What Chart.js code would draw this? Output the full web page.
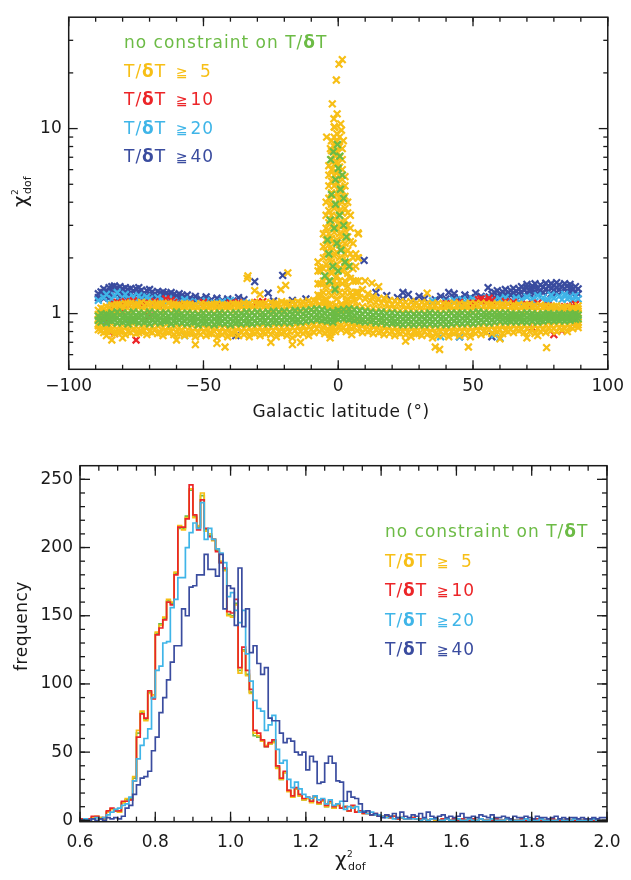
<!DOCTYPE html>
<html>
<head>
<meta charset="utf-8">
<script src="https://cdn.jsdelivr.net/npm/chart.js@4.4.1/dist/chart.umd.min.js"></script>
<style>
  body { margin: 0; background: #fff; }
  .panel { position: absolute; left: 0; }
</style>
</head>
<body>
<div class="panel" style="top:0"><canvas id="scatterChart" width="631" height="430"></canvas></div>
<div class="panel" style="top:430px"><canvas id="histChart" width="631" height="450"></canvas></div>
<script>
const FONT = '"DejaVu Sans", sans-serif';
const INK = '#1a1a1a';

const SERIES_NAMES = ['no constraint on T/δT', 'T/δT ≧ 5', 'T/δT ≧ 10', 'T/δT ≧ 20', 'T/δT ≧ 40'];
const THRESHOLDS = ['5', '10', '20', '40'];
const SERIES_COLORS = ['#6cbb45', '#f7bf16', '#ec2528', '#3fb5e8', '#3a4c9f'];

// ---- top panel: chi2 vs galactic latitude ----
const LAT_TICKS = [-100, -50, 0, 50, 100];
const CHI_TICKS = [1, 10];
const CHI_MINOR = [0.6, 0.7, 0.8, 0.9, 2, 3, 4, 5, 6, 7, 8, 9, 20, 30];

// yellow band, one row per latitude column: [lat, chi2 ...]
const YELLOW_BAND = [
  [-89, .82, .88, .99, 1.04], [-87, .79, .86, 1.00, 1.06], [-85, .81, .87, 1.01, 1.08], [-83, .78, .85, 1.02, 1.10],
  [-81, .80, .86, 1.03, 1.12], [-79, .77, .84, 1.04, 1.13], [-77, .79, .86, 1.03, 1.14], [-75, .78, .85, 1.05, 1.12],
  [-73, .80, .86, 1.04, 1.15], [-71, .77, .84, 1.03, 1.13], [-69, .79, .85, 1.05, 1.14], [-67, .78, .86, 1.04, 1.12],
  [-65, .76, .84, 1.03, 1.13], [-63, .79, .85, 1.05, 1.14], [-61, .77, .86, 1.04, 1.12], [-59, .78, .84, 1.03, 1.11],
  [-57, .76, .85, 1.04, 1.13], [-55, .78, .84, 1.03, 1.12], [-53, .75, .83, 1.04, 1.11], [-51, .77, .84, 1.03, 1.13],
  [-49, .76, .83, 1.04, 1.12], [-47, .78, .85, 1.03, 1.11], [-45, .74, .83, 1.04, 1.13], [-43, .77, .84, 1.03, 1.12],
  [-41, .75, .83, 1.04, 1.11], [-39, .78, .85, 1.03, 1.13], [-37, .76, .84, 1.04, 1.12], [-35, .77, .83, 1.05, 1.14],
  [-33, .75, .84, 1.04, 1.13], [-31, .78, .85, 1.05, 1.15], [-29, .76, .84, 1.04, 1.13], [-27, .78, .85, 1.05, 1.14],
  [-25, .77, .84, 1.04, 1.15], [-23, .75, .85, 1.05, 1.13], [-21, .78, .84, 1.04, 1.16], [-19, .76, .85, 1.05, 1.14],
  [-17, .74, .84, 1.06, 1.15], [-15, .77, .85, 1.05, 1.16], [-13, .78, .86, 1.06, 1.15], [-11, .76, .85, 1.07, 1.17],
  [-9, .79, .87, 1.08, 1.18], [-7, .80, .88, 1.10, 1.22], [-5, .78, .86, 1.09, 1.15], [-3, .77, .85, 1.06, 1.12],
  [-1, .80, .88, 1.05, 1.10], [1, .82, .86, 1.04, 1.12], [3, .80, .88, 1.06, 1.16], [5, .83, .90, 1.08, 1.25],
  [7, .81, .89, 1.10, 1.30], [9, .79, .87, 1.09, 1.35], [11, .80, .88, 1.08, 1.28], [13, .78, .86, 1.07, 1.24],
  [15, .79, .87, 1.06, 1.20], [17, .77, .86, 1.05, 1.21], [19, .78, .85, 1.06, 1.18], [21, .76, .84, 1.05, 1.17],
  [23, .78, .85, 1.04, 1.16], [25, .77, .84, 1.05, 1.15], [27, .75, .85, 1.04, 1.16], [29, .78, .84, 1.03, 1.14],
  [31, .76, .85, 1.04, 1.15], [33, .77, .84, 1.03, 1.14], [35, .74, .83, 1.04, 1.13], [37, .76, .84, 1.03, 1.14],
  [39, .77, .85, 1.04, 1.13], [41, .75, .84, 1.03, 1.12], [43, .78, .85, 1.04, 1.14], [45, .76, .84, 1.03, 1.13],
  [47, .77, .85, 1.04, 1.12], [49, .75, .84, 1.03, 1.14], [51, .78, .85, 1.04, 1.13], [53, .77, .86, 1.05, 1.14],
  [55, .79, .85, 1.04, 1.13], [57, .78, .86, 1.05, 1.12], [59, .80, .86, 1.04, 1.13], [61, .78, .87, 1.05, 1.12],
  [63, .80, .86, 1.04, 1.13], [65, .79, .87, 1.03, 1.11], [67, .81, .86, 1.04, 1.12], [69, .79, .87, 1.03, 1.11],
  [71, .80, .86, 1.04, 1.12], [73, .78, .87, 1.03, 1.10], [75, .80, .86, 1.04, 1.11], [77, .79, .87, 1.03, 1.10],
  [79, .81, .86, 1.02, 1.09], [81, .80, .87, 1.03, 1.10], [83, .82, .88, 1.02, 1.08], [85, .80, .87, 1.03, 1.09],
  [87, .83, .88, 1.02, 1.07], [89, .84, .90, 1.01, 1.06]
];

// in-between columns along the lower and upper edge of the band
const YELLOW_EDGES = [
  [-88, .81, 1.07], [-86, .80, 1.09], [-84, .82, 1.11], [-82, .79, 1.12], [-80, .81, 1.10], [-78, .80, 1.13],
  [-76, .82, 1.11], [-74, .79, 1.12], [-72, .81, 1.10], [-70, .80, 1.12], [-68, .82, 1.11], [-66, .79, 1.13],
  [-64, .81, 1.10], [-62, .80, 1.12], [-60, .79, 1.11], [-58, .81, 1.10], [-56, .78, 1.12], [-54, .80, 1.10],
  [-52, .79, 1.09], [-50, .80, 1.11], [-48, .78, 1.10], [-46, .80, 1.12], [-44, .79, 1.10], [-42, .80, 1.11],
  [-40, .78, 1.10], [-38, .80, 1.12], [-36, .79, 1.11], [-34, .80, 1.12], [-32, .79, 1.11], [-30, .80, 1.13],
  [-28, .79, 1.12], [-26, .80, 1.11], [-24, .81, 1.13], [-22, .80, 1.12], [-20, .79, 1.14], [-18, .80, 1.12],
  [-16, .81, 1.13], [-14, .80, 1.14], [-12, .81, 1.13], [-10, .82, 1.15], [-8, .83, 1.17], [-6, .82, 1.16],
  [-4, .80, 1.12], [-2, .83, 1.09], [0, .85, 1.08], [2, .84, 1.10], [4, .85, 1.14], [6, .84, 1.18],
  [8, .83, 1.22], [10, .82, 1.20], [12, .81, 1.17], [14, .82, 1.15], [16, .80, 1.14], [18, .81, 1.13],
  [20, .80, 1.12], [22, .79, 1.13], [24, .80, 1.12], [26, .79, 1.11], [28, .80, 1.12], [30, .78, 1.11],
  [32, .80, 1.12], [34, .79, 1.10], [36, .78, 1.11], [38, .80, 1.10], [40, .79, 1.11], [42, .80, 1.10],
  [44, .79, 1.11], [46, .80, 1.10], [48, .79, 1.11], [50, .80, 1.10], [52, .81, 1.11], [54, .80, 1.10],
  [56, .82, 1.11], [58, .81, 1.10], [60, .82, 1.11], [62, .81, 1.10], [64, .82, 1.09], [66, .83, 1.10],
  [68, .82, 1.09], [70, .83, 1.10], [72, .82, 1.09], [74, .83, 1.08], [76, .82, 1.09], [78, .84, 1.08],
  [80, .83, 1.09], [82, .84, 1.07], [84, .83, 1.08], [86, .85, 1.07], [88, .86, 1.06]
];

// the plane spike near b = 0
const YELLOW_SPIKE = [
  [-7.5, 1.26, 1.45, 1.7, 1.9], [-6.5, 1.25, 1.45, 1.7],
  [-5.5, 1.3, 1.5, 1.75, 2.0, 2.3, 2.7],
  [-4.5, 1.2, 1.4, 1.6, 1.85, 2.15, 2.5, 2.9, 3.4, 4.0],
  [-3.5, 1.3, 1.5, 1.75, 2.0, 2.35, 2.7, 3.1, 3.6, 4.2, 4.9, 5.6, 6.3],
  [-2.5, 1.25, 1.45, 1.65, 1.9, 2.2, 2.55, 2.95, 3.4, 3.9, 4.5, 5.2, 6.0, 6.8, 7.6, 8.6],
  [-1.5, 1.3, 1.5, 1.75, 2.05, 2.4, 2.75, 3.2, 3.7, 4.3, 4.9, 5.6, 6.4, 7.2, 8.0, 9.0, 10.2],
  [-0.5, 1.2, 1.4, 1.6, 1.85, 2.15, 2.5, 2.9, 3.35, 3.85, 4.45, 5.1, 5.8, 6.6, 7.5, 8.5, 9.4],
  [0.5, 1.3, 1.5, 1.75, 2.0, 2.35, 2.7, 3.1, 3.6, 4.2, 4.8, 5.5, 6.2, 7.0, 8.0, 9.0],
  [1.5, 1.25, 1.45, 1.7, 1.95, 2.25, 2.6, 3.0, 3.5, 4.0, 4.6, 5.3, 6.0, 6.8, 7.8],
  [2.5, 1.3, 1.5, 1.8, 2.1, 2.4, 2.8, 3.2, 3.7, 4.3, 4.9, 5.5],
  [3.5, 1.2, 1.4, 1.65, 1.9, 2.2, 2.6, 3.0, 3.5, 4.0],
  [4.5, 1.3, 1.55, 1.8, 2.1, 2.45, 2.9, 3.4],
  [5.5, 1.25, 1.5, 1.75, 2.0, 2.4],
  [6.5, 1.3, 1.5, 1.8, 2.1], [7.5, 1.3, 1.5, 2.0, 2.7]
];

const YELLOW_OUTLIERS = [
  [1.5, 23.6], [0.3, 22.3], [-0.7, 18.3], [-2.2, 13.6], [-0.4, 12.0], [-1.6, 11.3], [0.9, 10.6], [-1.3, 10.2],
  [1.2, 9.8], [-4.3, 9.0], [-2.9, 7.8], [1.9, 8.6], [-33.8, 1.55], [-33.5, 1.6], [-31, 1.33], [-29, 1.27],
  [-21.3, 1.35], [-18.7, 1.66], [-19.5, 1.42], [-6.8, 1.77], [-45, 0.69], [-53, 0.68], [-42, 0.66], [-17, 0.68],
  [-14, 0.7], [-25, 0.7], [-60, 0.72], [-86, 0.76], [-84, 0.72], [-80, 0.74], [12.5, 1.46], [15, 1.4], [33, 1.29],
  [36, 0.66], [37.6, 0.64], [48.3, 0.66], [77.3, 0.655], [7.3, 2.73], [7.2, 2.0], [10, 1.5], [25, 0.71], [60, 0.73],
  [70, 0.74], [74, 0.76], [-2.3, 0.8], [-3, 0.74], [5, 0.77], [89, 0.87], [89, 1.1], [-89, 0.86], [-89, 0.93]
];

const GREEN_BAND = [
  [-88, .90, .95, 1.00], [-86, .89, .94, .99], [-84, .91, .96, 1.01], [-82, .89, .95, 1.02], [-80, .90, .96, 1.01],
  [-78, .88, .94, 1.00], [-76, .91, .95, 1.02], [-74, .89, .96, 1.01], [-72, .90, .94, 1.00], [-70, .88, .95, 1.02],
  [-68, .90, .96, 1.01], [-66, .89, .94, 1.00], [-64, .91, .95, 1.01], [-62, .88, .94, 1.00], [-60, .90, .96, 1.02],
  [-58, .89, .95, 1.00], [-56, .88, .94, 1.01], [-54, .90, .95, 1.00], [-52, .87, .93, .99], [-50, .89, .95, 1.01],
  [-48, .88, .94, 1.00], [-46, .87, .93, .99], [-44, .89, .95, 1.01], [-42, .88, .94, 1.00], [-40, .87, .93, 1.00],
  [-38, .89, .95, 1.01], [-36, .88, .94, 1.00], [-34, .89, .95, 1.02], [-32, .88, .94, 1.01], [-30, .89, .95, 1.02],
  [-28, .90, .96, 1.01], [-26, .88, .95, 1.02], [-24, .90, .96, 1.03], [-22, .89, .95, 1.02], [-20, .90, .96, 1.03],
  [-18, .89, .95, 1.02], [-16, .91, .97, 1.04], [-14, .90, .96, 1.03], [-12, .91, .97, 1.04], [-10, .92, .98, 1.05],
  [-8, .93, .99, 1.06], [-6, .92, .98, 1.05], [-4, .91, .97, 1.03], [-2, .90, .96, 1.02], [0, .93, .98, 1.04],
  [2, .94, .99, 1.05], [4, .93, 1.00, 1.06], [6, .92, .98, 1.05], [8, .91, .97, 1.04], [10, .90, .96, 1.03],
  [12, .91, .96, 1.02], [14, .89, .95, 1.01], [16, .90, .95, 1.02], [18, .88, .94, 1.00], [20, .89, .95, 1.01],
  [22, .88, .94, 1.00], [24, .87, .93, .99], [26, .88, .94, 1.00], [28, .87, .93, .99], [30, .88, .94, 1.00],
  [32, .87, .93, .99], [34, .88, .94, 1.01], [36, .87, .93, 1.00], [38, .88, .94, .99], [40, .87, .93, 1.00],
  [42, .88, .94, 1.01], [44, .89, .95, 1.00], [46, .88, .94, 1.01], [48, .89, .95, 1.00], [50, .88, .94, 1.01],
  [52, .89, .95, 1.02], [54, .90, .96, 1.01], [56, .89, .95, 1.00], [58, .90, .96, 1.01], [60, .91, .96, 1.00],
  [62, .90, .95, 1.01], [64, .91, .96, 1.00], [66, .90, .95, .99], [68, .91, .96, 1.00], [70, .90, .95, 1.01],
  [72, .91, .96, 1.00], [74, .90, .95, .99], [76, .91, .96, 1.00], [78, .92, .96, 1.00], [80, .91, .95, .99],
  [82, .92, .96, 1.00], [84, .91, .95, .99], [86, .92, .96, 1.00], [88, .93, .97, 1.00]
];

const GREEN_FILL = [
  [-89, .92, .97], [-87, .93, .98], [-85, .92, .98], [-83, .93, .97], [-81, .91, .98], [-79, .92, .97],
  [-77, .93, .98], [-75, .91, .97], [-73, .92, .98], [-71, .91, .97], [-69, .93, .98], [-67, .92, .97],
  [-65, .91, .98], [-63, .92, .97], [-61, .91, .97], [-59, .92, .98], [-57, .91, .96], [-55, .92, .97],
  [-53, .90, .96], [-51, .91, .97], [-49, .90, .96], [-47, .91, .97], [-45, .90, .96], [-43, .91, .97],
  [-41, .90, .96], [-39, .91, .97], [-37, .90, .97], [-35, .91, .98], [-33, .90, .97], [-31, .91, .98],
  [-29, .92, .98], [-27, .91, .98], [-25, .92, .99], [-23, .91, .98], [-21, .92, .99], [-19, .92, .98],
  [-17, .93, .99], [-15, .92, 1.00], [-13, .93, .99], [-11, .94, 1.01], [-9, .95, 1.02], [-7, .94, 1.01],
  [-5, .93, 1.00], [-3, .92, .99], [-1, .95, 1.01], [1, .96, 1.02], [3, .95, 1.02], [5, .94, 1.01],
  [7, .93, 1.00], [9, .92, .99], [11, .93, .99], [13, .92, .98], [15, .92, .98], [17, .91, .97],
  [19, .91, .97], [21, .90, .97], [23, .90, .96], [25, .91, .97], [27, .90, .96], [29, .90, .97],
  [31, .90, .96], [33, .91, .97], [35, .90, .96], [37, .90, .97], [39, .91, .96], [41, .90, .97],
  [43, .91, .97], [45, .91, .98], [47, .92, .97], [49, .91, .98], [51, .92, .97], [53, .92, .98],
  [55, .93, .98], [57, .92, .98], [59, .93, .98], [61, .93, .98], [63, .92, .97], [65, .93, .98],
  [67, .93, .97], [69, .92, .98], [71, .93, .98], [73, .93, .97], [75, .92, .97], [77, .93, .98],
  [79, .94, .98], [81, .93, .97], [83, .94, .98], [85, .93, .97], [87, .94, .98], [89, .94, .98]
];

const GREEN_SPIKE = [
  [-3.5, 2.1], [-3, 3.2], [-2.5, 4.4], [-2, 1.8], [-1.5, 2.9], [-1, 5.3], [-1, 3.9], [-0.5, 2.4], [0, 6.1],
  [0, 1.7], [0.5, 3.4], [0.8, 4.7], [1, 2.2], [1.5, 5.6], [2, 3.0], [2.5, 1.9], [-2.8, 6.8], [-1.8, 7.5],
  [-0.3, 8.2], [0.6, 7.1], [3, 2.6], [-4, 2.5], [4, 1.8], [-5, 1.6], [2, 4.2], [-3.2, 1.5], [-1.2, 1.35]
];

const RED_POINTS = [
  [-87, 0.95], [-86, 0.9], [-85, 0.8], [-84, 1.05], [-83, 1.12], [-83, 0.78], [-82, 1.15], [-81, 1.08], [-80, 1.02],
  [-79, 1.16], [-78, 1.12], [-77, 0.92], [-76, 1.17], [-75, 0.72], [-74, 1.1], [-72, 1.14], [-70, 0.97], [-68, 1.16],
  [-66, 1.08], [-64, 1.2], [-62, 1.18], [-61, 1.15], [-58, 1.12], [-55, 1.13], [-50, 1.15], [-45, 1.12], [-40, 1.14],
  [-37, 1.15], [-30, 1.15], [-28, 1.16], [40, 1.13], [45, 1.15], [50, 1.14], [52, 1.19], [53, 1.2], [54, 1.17],
  [55, 1.16], [56, 1.21], [57, 1.18], [62, 1.16], [63, 1.13], [65, 1.15], [70, 1.12], [72, 0.84], [74, 1.14],
  [78, 1.1], [80, 1.08], [80, 0.77], [82, 1.06], [83, 0.81], [84, 1.09], [85, 1.07], [87, 1.1], [88, 1.12], [88, 0.9]
];

const CYAN_POINTS = [
  [-89, 1.18], [-88, 0.93], [-87, 1.22], [-86, 1.27], [-86, 0.86], [-85, 1.14], [-84, 1.2], [-83, 1.25], [-82, 1.3],
  [-81, 1.18], [-80, 1.22], [-79, 1.27], [-78, 1.2], [-78, 0.93], [-77, 1.16], [-76, 1.24], [-75, 1.19], [-74, 1.25],
  [-73, 1.21], [-72, 1.17], [-71, 1.23], [-70, 1.2], [-68, 1.16], [-67, 1.22], [-65, 1.18], [-63, 1.2], [-61, 1.17],
  [-59, 1.15], [-57, 1.19], [-57, 0.76], [-55, 1.16], [-52, 1.15], [-49, 1.17], [-46, 1.14], [-43, 1.16], [-40, 1.18],
  [-37, 1.15], [-34, 1.14], [35, 1.17], [38, 0.75], [40, 1.16], [43, 1.18], [45, 0.75], [46, 1.19], [46, 1.13],
  [48, 1.17], [50, 1.2], [52, 1.16], [55, 1.22], [58, 1.18], [58, 0.77], [60, 1.2], [60, 0.74], [62, 1.22],
  [64, 1.17], [66, 1.21], [67, 1.15], [68, 1.19], [70, 1.23], [72, 1.2], [73, 1.16], [74, 1.25], [76, 1.22],
  [77, 1.15], [78, 1.18], [79, 1.26], [80, 1.21], [82, 1.24], [83, 1.19], [84, 1.27], [85, 1.2], [86, 1.23],
  [87, 1.17], [88, 1.25], [89, 1.2]
];

const BLUE_COLUMNS = [
  [-89, 1.22, 1.28], [-88, 1.25, 1.31], [-87, 1.21, 1.3, 1.36], [-86, 1.24, 1.33], [-85, 1.22, 1.27, 1.38],
  [-84, 1.3, 1.4], [-83, 1.25, 1.35, 1.41], [-82, 1.28, 1.37], [-81, 1.23, 1.32, 1.4], [-80, 1.27, 1.36],
  [-79, 1.24, 1.3, 1.38], [-78, 1.26, 1.35], [-77, 1.22, 1.29, 1.37], [-76, 1.25, 1.33], [-75, 1.28, 1.36],
  [-74, 1.23, 1.31, 1.38], [-73, 1.26, 1.34], [-72, 1.22, 1.29], [-71, 1.25, 1.33], [-70, 1.21, 1.27, 1.35],
  [-69, 1.24, 1.31], [-68, 1.22, 1.28], [-67, 1.25, 1.32], [-66, 1.21, 1.29], [-65, 1.26, 1.31], [-64, 1.23, 1.28],
  [-63, 1.2, 1.27], [-62, 1.24, 1.3], [-61, 1.21, 1.27], [-60, 1.19, 1.25], [-59, 1.22, 1.28], [-58, 1.2, 1.25],
  [-57, 1.23], [-56, 1.19, 1.26], [-55, 1.21], [-53, 1.18, 1.24], [-51, 1.2], [-49, 1.17, 1.23], [-47, 1.19],
  [-45, 1.21], [-43, 1.18], [-41, 1.2], [-39, 1.17], [-38, 0.76], [-37, 1.22], [-35, 1.19], [-31, 1.49],
  [-26, 1.29], [-24, 1.17], [-20.6, 1.61], [-17, 1.18], [-12, 1.2],
  [9.6, 1.94], [14, 1.3], [18, 1.25], [22, 1.22], [24, 1.3, 1.2], [26, 1.27], [28, 1.18], [30, 1.24], [32, 1.2],
  [36, 1.19], [38, 1.24], [40, 1.2], [41, 1.3], [43, 1.22, 1.28], [45, 1.2, 0.75], [47, 1.26], [49, 1.22],
  [51, 1.29], [53, 1.24], [55.6, 1.38], [56, 1.23], [57, 1.27, 0.75], [58, 1.3, 1.22], [59, 1.25, 1.33],
  [60, 1.28, 1.22], [61, 1.31, 1.24], [62, 1.27, 1.35], [63, 1.3, 1.23], [64, 1.33, 1.26], [65, 1.29, 1.37],
  [66, 1.32, 1.25], [67, 1.36, 1.28], [68, 1.3, 1.4], [69, 1.34, 1.26], [70, 1.38, 1.3, 1.44], [71, 1.33, 1.27],
  [72, 1.41, 1.35], [73, 1.3, 1.45], [74, 1.37, 1.28], [75, 1.43, 1.33], [76, 1.39, 1.3], [77, 1.46, 1.35],
  [78, 1.41, 1.32], [79, 1.45, 1.37, 1.28], [80, 1.42, 1.34], [81, 1.47, 1.38, 1.3], [82, 1.43, 1.35],
  [83, 1.4, 1.32], [84, 1.45, 1.37], [85, 1.41, 1.3], [86, 1.38, 1.44], [87, 1.35, 1.27], [88, 1.4, 1.32],
  [89, 1.36, 1.28]
];

// ---- bottom panel: histograms of chi2_dof, bins of 0.01 from 0.60 ----
const BIN_START = 0.6;
const BIN_WIDTH = 0.01;
const CHI_BIN_TICKS = [0.6, 0.8, 1.0, 1.2, 1.4, 1.6, 1.8, 2.0];
const FREQ_TICKS = [0, 50, 100, 150, 200, 250];

const HIST_GREEN = [
  0, 1, 1, 0, 2, 2, 2, 1, 6, 8,
  7, 6, 13, 15, 16, 31, 64, 79, 74, 94,
  90, 137, 144, 148, 161, 159, 181, 214, 214, 223,
  242, 223, 215, 238, 213, 209, 206, 198, 189, 184,
  151, 150, 159, 110, 125, 107, 94, 62, 61, 58,
  54, 56, 58, 39, 30, 35, 22, 17, 23, 18,
  15, 16, 14, 17, 12, 14, 10, 13, 9, 11,
  9, 10, 7, 10, 6, 7, 5, 5, 4, 4,
  3, 3, 3, 2, 3, 1, 2, 1, 1, 2,
  1, 1, 1, 0, 1, 0, 0, 1, 1, 0,
  1, 0, 1, 0, 0, 1, 0, 1, 0, 0,
  0, 1, 0, 0, 1, 0, 0, 0, 1, 0,
  0, 0, 1, 0, 0, 0, 1, 0, 0, 0,
  1, 0, 0, 0, 0, 1, 0, 0, 0, 0
];
const HIST_YELLOW = [
  0, 1, 1, 0, 2, 3, 2, 1, 6, 8,
  8, 6, 13, 16, 15, 32, 66, 80, 73, 93,
  92, 138, 143, 149, 162, 160, 182, 216, 213, 222,
  243, 222, 216, 240, 212, 210, 205, 199, 190, 183,
  150, 149, 158, 108, 124, 106, 93, 64, 62, 58,
  55, 56, 57, 38, 30, 35, 21, 17, 23, 18,
  15, 16, 13, 17, 12, 14, 10, 13, 9, 11,
  9, 10, 7, 10, 6, 7, 5, 5, 4, 4,
  3, 3, 3, 2, 3, 1, 2, 1, 1, 2,
  1, 1, 1, 0, 1, 0, 0, 1, 1, 0,
  1, 0, 1, 0, 0, 1, 0, 1, 0, 0,
  0, 1, 0, 0, 1, 0, 0, 0, 1, 0,
  0, 0, 1, 0, 0, 0, 1, 0, 0, 0,
  1, 0, 0, 0, 0, 1, 0, 0, 0, 0
];
const HIST_RED = [
  1, 1, 0, 1, 3, 3, 1, 2, 7, 9,
  7, 7, 14, 14, 15, 29, 61, 78, 75, 95,
  89, 136, 141, 147, 160, 158, 180, 215, 215, 221,
  246, 224, 213, 235, 214, 208, 206, 197, 189, 185,
  153, 152, 162, 112, 127, 110, 96, 66, 64, 59,
  54, 57, 59, 40, 31, 36, 22, 18, 24, 19,
  16, 17, 14, 18, 13, 15, 11, 14, 10, 12,
  9, 10, 7, 11, 6, 7, 5, 5, 4, 5,
  3, 3, 4, 2, 3, 1, 2, 1, 1, 2,
  1, 1, 1, 0, 1, 1, 0, 1, 1, 0,
  1, 0, 1, 0, 0, 1, 0, 1, 0, 0,
  0, 1, 0, 0, 1, 0, 0, 0, 1, 0,
  0, 0, 1, 0, 0, 0, 1, 0, 0, 0,
  1, 0, 0, 0, 0, 1, 0, 0, 0, 0
];
const HIST_CYAN = [
  0, 0, 1, 0, 1, 2, 1, 2, 4, 6,
  8, 9, 11, 12, 17, 29, 45, 55, 60, 67,
  90, 110, 113, 130, 131, 156, 162, 178, 178, 200,
  211, 218, 214, 233, 206, 214, 206, 199, 196, 189,
  164, 167, 154, 145, 154, 122, 102, 88, 82, 80,
  66, 70, 77, 52, 42, 44, 30, 24, 28, 23,
  19, 17, 16, 18, 15, 16, 12, 15, 11, 12,
  14, 8, 10, 9, 10, 6, 7, 5, 6, 4,
  4, 3, 2, 3, 1, 2, 2, 1, 1, 1,
  1, 0, 1, 0, 1, 1, 0, 0, 1, 0,
  0, 1, 0, 0, 1, 0, 0, 1, 0, 0,
  1, 0, 0, 0, 1, 0, 0, 0, 0, 1,
  0, 0, 0, 1, 0, 0, 0, 0, 1, 0,
  0, 0, 1, 0, 0, 0, 0, 1, 0, 0
];
const HIST_BLUE = [
  0, 0, 0, 0, 1, 0, 1, 0, 2, 1,
  2, 1, 3, 9, 11, 19, 26, 31, 32, 36,
  51, 61, 79, 90, 103, 116, 128, 128, 155, 150,
  171, 172, 180, 180, 195, 184, 184, 179, 195, 155,
  172, 170, 143, 185, 142, 155, 123, 128, 115, 107,
  112, 75, 73, 73, 64, 57, 60, 58, 50, 48,
  50, 37, 47, 43, 27, 28, 42, 47, 42, 29,
  28, 14, 21, 17, 16, 12, 6, 7, 4, 5,
  3, 2, 4, 3, 5, 2, 6, 3, 2, 4,
  3, 5, 2, 6, 3, 2, 3, 4, 2, 3,
  2, 3, 5, 2, 2, 3, 2, 4, 3, 2,
  4, 2, 2, 3, 2, 1, 3, 2, 2, 3,
  2, 1, 3, 2, 2, 1, 2, 3, 1, 2,
  1, 2, 2, 1, 2, 1, 1, 2, 1, 2
];

function columnsToPoints(rows) {
  const pts = [];
  rows.forEach(([x, ...vals]) => vals.forEach(v => pts.push({ x: x, y: v })));
  return pts;
}

function pairsToPoints(pairs) {
  return pairs.map(([x, y]) => ({ x: x, y: y }));
}

function histPoints(counts) {
  const pts = counts.map((c, i) => ({ x: BIN_START + i * BIN_WIDTH, y: c }));
  pts.push({ x: BIN_START + counts.length * BIN_WIDTH, y: counts[counts.length - 1] });
  return pts;
}

function scatterSet(label, color, data) {
  return {
    label: label,
    data: data,
    pointStyle: 'crossRot',
    pointRadius: 4.8,
    borderWidth: 2.2,
    borderColor: color,
    backgroundColor: color
  };
}

function histSet(label, color, counts) {
  return {
    label: label,
    data: histPoints(counts),
    stepped: 'after',
    borderColor: color,
    borderWidth: 1.7,
    pointRadius: 0,
    fill: false
  };
}

function minorRange(from, to, step) {
  const out = [];
  for (let v = from; v <= to + 1e-9; v += step) out.push(Math.round(v * 1000) / 1000);
  return out;
}

function fixedAxis(size, isX) {
  return function (scale) {
    if (isX) scale.height = size; else scale.width = size;
  };
}

function line(ctx, x1, y1, x2, y2) {
  ctx.beginPath();
  ctx.moveTo(x1, y1);
  ctx.lineTo(x2, y2);
  ctx.stroke();
}

// inward ticks on all four sides plus the frame
function drawFrame(chart, xMajor, xMinor, yMajor, yMinor, majLen, minLen) {
  const { ctx, chartArea: a, scales } = chart;
  ctx.save();
  ctx.strokeStyle = INK;
  ctx.lineWidth = 1.3;
  const xt = (vals, len) => vals.forEach(v => {
    const px = scales.x.getPixelForValue(v);
    line(ctx, px, a.bottom, px, a.bottom - len);
    line(ctx, px, a.top, px, a.top + len);
  });
  const yt = (vals, len) => vals.forEach(v => {
    const py = scales.y.getPixelForValue(v);
    line(ctx, a.left, py, a.left + len, py);
    line(ctx, a.right, py, a.right - len, py);
  });
  xt(xMinor, minLen); xt(xMajor, majLen);
  yt(yMinor, minLen); yt(yMajor, majLen);
  ctx.lineWidth = 1.5;
  ctx.strokeRect(a.left, a.top, a.right - a.left, a.bottom - a.top);
  ctx.restore();
}

function textPart(ctx, str, x, y, font, color) {
  ctx.font = font;
  ctx.fillStyle = color;
  ctx.fillText(str, x, y);
  return x + ctx.measureText(str).width;
}

function drawLegend(ctx, x0, baselines) {
  const normal = '17px ' + FONT;
  const bold = 'bold 17px ' + FONT;
  ctx.save();
  ctx.letterSpacing = '1px';
  ctx.textBaseline = 'alphabetic';
  let x = textPart(ctx, 'no constraint on T/', x0, baselines[0], normal, SERIES_COLORS[0]);
  x = textPart(ctx, 'δ', x, baselines[0], bold, SERIES_COLORS[0]);
  textPart(ctx, 'T', x, baselines[0], normal, SERIES_COLORS[0]);
  THRESHOLDS.forEach((t, i) => {
    const c = SERIES_COLORS[i + 1];
    const y = baselines[i + 1];
    let xx = textPart(ctx, 'T/', x0, y, normal, c);
    xx = textPart(ctx, 'δ', xx, y, bold, c);
    textPart(ctx, 'T', xx, y, normal, c);
    textPart(ctx, '≧', x0 + 52, y, '14px ' + FONT, c);
    textPart(ctx, t, x0 + (t.length === 1 ? 76 : 66.5), y, normal, c);
  });
  ctx.restore();
}

function drawChiDof(ctx) {
  let x = textPart(ctx, 'χ', 0, 0, '20px ' + FONT, INK);
  textPart(ctx, '2', x + 0.5, -9, '9px ' + FONT, INK);
  textPart(ctx, 'dof', x + 1.5, 4, '11px ' + FONT, INK);
}

const tickFont = { family: FONT, size: 17 };

// ---- top chart ----
const scatterCanvas = document.getElementById('scatterChart');
new Chart(scatterCanvas, {
  type: 'scatter',
  data: {
    datasets: [
      scatterSet(SERIES_NAMES[0], SERIES_COLORS[0],
        columnsToPoints(GREEN_BAND).concat(columnsToPoints(GREEN_FILL), pairsToPoints(GREEN_SPIKE))),
      scatterSet(SERIES_NAMES[1], SERIES_COLORS[1],
        columnsToPoints(YELLOW_BAND).concat(columnsToPoints(YELLOW_EDGES), columnsToPoints(YELLOW_SPIKE), pairsToPoints(YELLOW_OUTLIERS))),
      scatterSet(SERIES_NAMES[2], SERIES_COLORS[2], pairsToPoints(RED_POINTS)),
      scatterSet(SERIES_NAMES[3], SERIES_COLORS[3], pairsToPoints(CYAN_POINTS)),
      scatterSet(SERIES_NAMES[4], SERIES_COLORS[4], columnsToPoints(BLUE_COLUMNS))
    ]
  },
  options: {
    responsive: false,
    animation: false,
    devicePixelRatio: 1,
    layout: { padding: { top: 8.7, right: 17.7, left: 0, bottom: 0 } },
    plugins: { legend: { display: false }, tooltip: { enabled: false } },
    scales: {
      x: {
        type: 'linear', min: -100, max: 100,
        grid: { display: false, drawTicks: false }, border: { display: false },
        afterBuildTicks: s => { s.ticks = LAT_TICKS.map(v => ({ value: v })); },
        afterFit: fixedAxis(60.7, true),
        ticks: { font: tickFont, color: INK, padding: 7, maxRotation: 0, autoSkip: false,
          callback: v => String(v).replace('-', '−') }
      },
      y: {
        type: 'logarithmic', min: 0.5, max: 40,
        grid: { display: false, drawTicks: false }, border: { display: false },
        afterBuildTicks: s => { s.ticks = CHI_TICKS.map(v => ({ value: v })); },
        afterFit: fixedAxis(68.7, false),
        ticks: { font: tickFont, color: INK, padding: 7, autoSkip: false, callback: v => String(v) }
      }
    }
  },
  plugins: [{
    id: 'frameTop',
    afterDraw(chart) {
      const ctx = chart.ctx;
      drawFrame(chart, LAT_TICKS, minorRange(-100, 100, 10), CHI_TICKS, CHI_MINOR, 9, 4.5);
      drawLegend(ctx, 124, [48.3, 76.7, 105, 134, 162.3]);
      ctx.save();
      ctx.letterSpacing = '0.5px';
      ctx.textAlign = 'center';
      textPart(ctx, 'Galactic latitude (°)', 341, 417, '17px ' + FONT, INK);
      ctx.restore();
      ctx.save();
      ctx.translate(27, 207);
      ctx.rotate(-Math.PI / 2);
      drawChiDof(ctx);
      ctx.restore();
    }
  }]
});

// ---- bottom chart ----
const histCanvas = document.getElementById('histChart');
new Chart(histCanvas, {
  type: 'line',
  data: {
    datasets: [
      histSet(SERIES_NAMES[4], SERIES_COLORS[4], HIST_BLUE),
      histSet(SERIES_NAMES[3], SERIES_COLORS[3], HIST_CYAN),
      histSet(SERIES_NAMES[2], SERIES_COLORS[2], HIST_RED),
      histSet(SERIES_NAMES[1], SERIES_COLORS[1], HIST_YELLOW),
      histSet(SERIES_NAMES[0], SERIES_COLORS[0], HIST_GREEN)
    ]
  },
  options: {
    responsive: false,
    animation: false,
    devicePixelRatio: 1,
    layout: { padding: { top: 35.7, right: 18, left: 0, bottom: 0 } },
    plugins: { legend: { display: false }, tooltip: { enabled: false } },
    scales: {
      x: {
        type: 'linear', min: 0.6, max: 2.0,
        grid: { display: false, drawTicks: false }, border: { display: false },
        afterBuildTicks: s => { s.ticks = CHI_BIN_TICKS.map(v => ({ value: v })); },
        afterFit: fixedAxis(58.3, true),
        ticks: { font: tickFont, color: INK, padding: 10.5, maxRotation: 0, autoSkip: false,
          callback: v => v.toFixed(1) }
      },
      y: {
        type: 'linear', min: -1, max: 260,
        grid: { display: false, drawTicks: false }, border: { display: false },
        afterBuildTicks: s => { s.ticks = FREQ_TICKS.map(v => ({ value: v })); },
        afterFit: fixedAxis(80, false),
        ticks: { font: tickFont, color: INK, padding: 7, autoSkip: false }
      }
    }
  },
  plugins: [{
    id: 'frameBottom',
    afterDraw(chart) {
      const ctx = chart.ctx;
      drawFrame(chart, CHI_BIN_TICKS, minorRange(0.6, 2.0, 0.05), FREQ_TICKS, minorRange(0, 250, 10), 10, 5);
      drawLegend(ctx, 385, [106.7, 136.7, 166, 195.7, 225]);
      ctx.save();
      ctx.translate(335, 436);
      drawChiDof(ctx);
      ctx.restore();
      ctx.save();
      ctx.translate(27, 196);
      ctx.rotate(-Math.PI / 2);
      ctx.letterSpacing = '0.5px';
      ctx.textAlign = 'center';
      textPart(ctx, 'frequency', 0, 0, '17px ' + FONT, INK);
      ctx.restore();
    }
  }]
});
</script>
</body>
</html>
